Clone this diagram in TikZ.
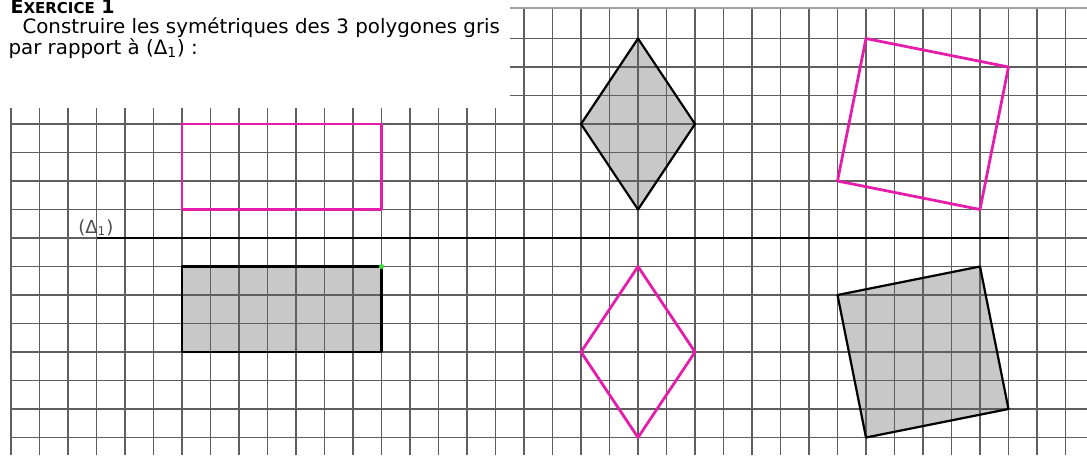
\documentclass[tikz,border=0pt]{standalone}
\usepackage{fontspec}
\setmainfont{DejaVu Sans}
\usepackage{tikz}
\usetikzlibrary{calc}
\usepackage{xcolor}
\definecolor{gridgray}{RGB}{95,95,95}
\definecolor{shapegray}{RGB}{200,200,200}
\definecolor{rosepink}{RGB}{228,30,170}
\definecolor{dotgreen}{RGB}{60,220,60}

\begin{document}
\begin{tikzpicture}[scale=0.5,
  gridline/.style={gridgray,line width=0.6pt},
  grayshape/.style={fill=shapegray,draw=none},
  grayedge/.style={black,line width=1.1pt,line join=round},
  pinkedge/.style={rosepink,line width=1.4pt,line join=round},
  txt/.style={anchor=base west,inner sep=0pt,font=\fontsize{9.9}{11}\selectfont}]
\useasboundingbox (-0.386,-7.614) rectangle (37.754,8.351);
\fill[white] (-0.386,-7.614) rectangle (37.754,8.351);
% gray polygons (filled under the grid)
\coordinate (R1) at (6,-1); \coordinate (R2) at (13,-1);
\coordinate (R3) at (13,-4); \coordinate (R4) at (6,-4);
\coordinate (L1) at (22,7); \coordinate (L2) at (24,4);
\coordinate (L3) at (22,1); \coordinate (L4) at (20,4);
\coordinate (S1) at (29,-2); \coordinate (S2) at (34,-1);
\coordinate (S3) at (35,-6); \coordinate (S4) at (30,-7);
\fill[grayshape] (R1) -- (R2) -- (R3) -- (R4) -- cycle;
\fill[grayshape] (L1) -- (L2) -- (L3) -- (L4) -- cycle;
\fill[grayshape] (S1) -- (S2) -- (S3) -- (S4) -- cycle;
% grid
\foreach \i in {0,...,17} \draw[gridline] (\i,-7.614) -- (\i,4.55);
\foreach \i in {18,...,37} \draw[gridline] (\i,-7.614) -- (\i,8.07);
\foreach \j in {-7,...,4} \draw[gridline] (0,\j) -- (37.754,\j);
\foreach \j in {5,6,7} \draw[gridline] (17.5,\j) -- (37.754,\j);
\draw[gridgray!60,line width=1pt] (17.5,8.07) -- (37.754,8.07);
% axis
\coordinate (D1) at (3,0); \coordinate (D2) at (35,0);
\draw[black,line width=1.2pt] (D1) -- (D2);
\node[txt,font=\fontsize{9}{11}\selectfont,text=black!70] (dlab) at (2.35,0.17) {(Δ\textsubscript{1})};
\draw[grayedge] (R1) -- (R2) -- (R3) -- (R4) -- cycle;
\draw[grayedge] (L1) -- (L2) -- (L3) -- (L4) -- cycle;
\draw[grayedge] (S1) -- (S2) -- (S3) -- (S4) -- cycle;
\fill[dotgreen] (R2) circle (0.09);
% images
\draw[pinkedge] (6,1) -- (13,1) -- (13,4) -- (6,4) -- cycle;
\draw[pinkedge] (22,-7) -- (24,-4) -- (22,-1) -- (20,-4) -- cycle;
\draw[pinkedge] (29,2) -- (34,1) -- (35,6) -- (30,7) -- cycle;
% text
\node[txt,font=\bfseries\fontsize{9.5}{11}\selectfont] (title) at (-0.03,7.87) {E{\fontsize{7.5}{9}\selectfont XERCICE} 1};
\node[txt] (line1) at (0.39,7.18) {Construire les symétriques des 3 polygones gris};
\node[txt] (line2) at (-0.1,6.43) {par rapport à (Δ\textsubscript{1}) :};
\end{tikzpicture}
\end{document}
